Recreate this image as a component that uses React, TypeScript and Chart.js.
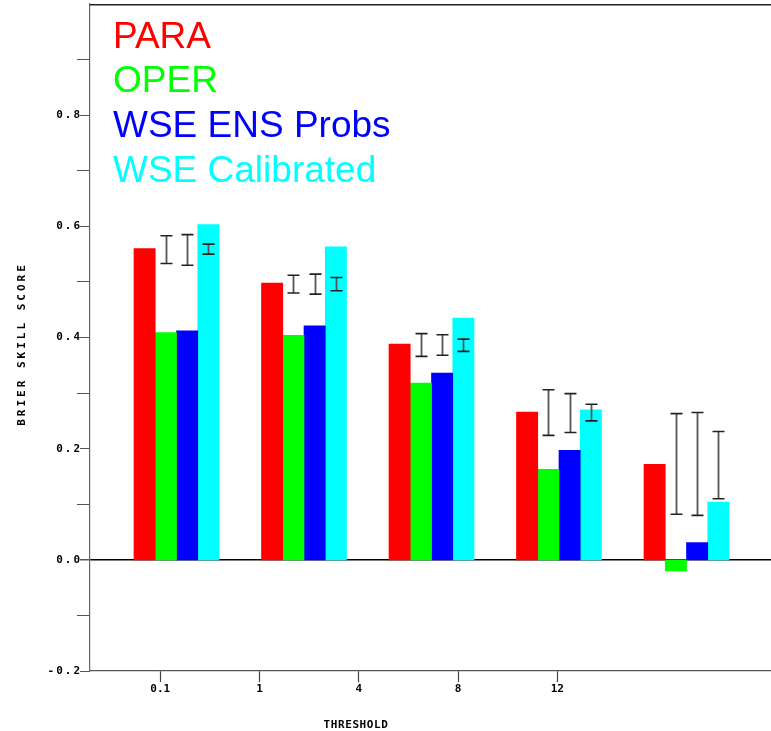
import React, { useEffect, useRef } from "react";
import { Chart, registerables } from "chart.js";

Chart.register(...registerables);

// ---- data ----
const thresholds = ["0.1", "1", "4", "8", "12"];
const groupIndex = [1, 2, 3, 4, 5];
const seriesNames = ["PARA", "OPER", "WSE ENS Probs", "WSE Calibrated"];
const seriesColors = ["#ff0000", "#00ff00", "#0000ff", "#00ffff"];

const para = [0.56, 0.498, 0.388, 0.266, 0.172];
const oper = [0.409, 0.404, 0.318, 0.163, -0.02];
const wseEns = [0.412, 0.421, 0.336, 0.197, 0.031];
const wseCal = [0.603, 0.563, 0.435, 0.27, 0.104];

const operErrLow = [0.533, 0.48, 0.366, 0.224, 0.082];
const operErrHigh = [0.583, 0.512, 0.407, 0.306, 0.263];
const ensErrLow = [0.53, 0.478, 0.368, 0.229, 0.08];
const ensErrHigh = [0.585, 0.514, 0.405, 0.299, 0.265];
const calErrLow = [0.55, 0.484, 0.375, 0.25, 0.11];
const calErrHigh = [0.568, 0.508, 0.397, 0.28, 0.231];

const yTickValues = [-0.2, 0, 0.2, 0.4, 0.6, 0.8];
const yTickLabels = ["-0.2", "0.0", "0.2", "0.4", "0.6", "0.8"];
const yMinorTicks = [-0.1, 0.1, 0.3, 0.5, 0.7, 0.9];
const yTitle = "BRIER SKILL SCORE";
const xTitle = "THRESHOLD";

const seriesValues = [para, oper, wseEns, wseCal];
const errSeries: ({ low: number[]; high: number[] } | null)[] = [
  null,
  { low: operErrLow, high: operErrHigh },
  { low: ensErrLow, high: ensErrHigh },
  { low: calErrLow, high: calErrHigh },
];

const MONO = '"DejaVu Sans Mono", monospace';

const decorPlugin = {
  id: "decor",
  afterDatasetsDraw(chart: any) {
    const ctx = chart.ctx as CanvasRenderingContext2D;
    const y = chart.scales.y;
    const area = chart.chartArea;
    ctx.save();
    // error bars
    errSeries.forEach((e, d) => {
      if (!e) return;
      const meta = chart.getDatasetMeta(d);
      meta.data.forEach((bar: any, i: number) => {
        const x = Math.round(bar.x) + 0.5;
        const yt = y.getPixelForValue(e.high[i]);
        const yb = y.getPixelForValue(e.low[i]);
        ctx.strokeStyle = "#555";
        ctx.lineWidth = 1.8;
        ctx.beginPath();
        ctx.moveTo(x, yt);
        ctx.lineTo(x, yb);
        ctx.stroke();
        ctx.strokeStyle = "#222";
        ctx.lineWidth = 1.6;
        ctx.beginPath();
        ctx.moveTo(x - 6, yt);
        ctx.lineTo(x + 6, yt);
        ctx.moveTo(x - 6, yb);
        ctx.lineTo(x + 6, yb);
        ctx.stroke();
      });
    });
    // top frame line
    ctx.strokeStyle = "#222";
    ctx.lineWidth = 1.5;
    ctx.beginPath();
    ctx.moveTo(area.left, area.top + 0.75);
    ctx.lineTo(area.right, area.top + 0.75);
    ctx.stroke();

    // longer minor tick marks on y axis
    ctx.strokeStyle = "#555";
    ctx.lineWidth = 1;
    ctx.beginPath();
    yMinorTicks.forEach((v) => {
      const py = Math.round(y.getPixelForValue(v) - 0.5) + 0.5;
      ctx.moveTo(y.right - 13, py);
      ctx.lineTo(y.right - 9, py);
    });
    ctx.stroke();

    // legend (text only)
    ctx.font = '37px "Liberation Sans", Arial, sans-serif';
    ctx.textAlign = "left";
    ctx.textBaseline = "alphabetic";
    chart.data.datasets.forEach((ds: any, k: number) => {
      ctx.fillStyle = ds.backgroundColor;
      ctx.fillText(ds.label, 113, 47.5 + k * 44.8);
    });

    // y tick labels
    ctx.fillStyle = "#000";
    ctx.font = `bold 11px ${MONO}`;
    (ctx as any).letterSpacing = "2px";
    ctx.textAlign = "right";
    ctx.textBaseline = "middle";
    yTickValues.forEach((v, i) => {
      ctx.fillText(yTickLabels[i], y.right - 8, y.getPixelForValue(v));
    });

    // y title
    ctx.save();
    (ctx as any).letterSpacing = "3px";
    ctx.translate(22, 344);
    ctx.rotate(-Math.PI / 2);
    ctx.textAlign = "center";
    ctx.fillText(yTitle, 0, 0);
    ctx.restore();

    // x title
    (ctx as any).letterSpacing = "0.6px";
    ctx.textAlign = "center";
    ctx.textBaseline = "middle";
    ctx.fillText(xTitle, 356, 725);
    ctx.restore();
  },
};

export default function App() {
  const ref = useRef<HTMLCanvasElement | null>(null);
  useEffect(() => {
    if (!ref.current) return;
    const chart = new Chart(ref.current, {
      type: "bar",
      data: {
        datasets: seriesNames.map((name, k) => ({
          label: name,
          data: groupIndex.map((g, i) => ({ x: g, y: seriesValues[k][i] })),
          backgroundColor: seriesColors[k],
          borderWidth: 0,
          barThickness: 21.25,
          xAxisID: "x",
        })),
      },
      options: {
        responsive: false,
        animation: false,
        devicePixelRatio: 1,
        layout: { padding: { top: 4, left: 0, right: 0, bottom: 0 } },
        plugins: {
          legend: { display: false },
          tooltip: { enabled: false },
          title: { display: false },
        },
        scales: {
          x: {
            type: "linear",
            display: false,
            offset: false,
            min: 0.3216,
            max: 5.6628,
            afterBuildTicks: (s: any) => {
              s.ticks = groupIndex.map((v) => ({ value: v }));
            },
            grid: { offset: false },
          },
          xt: {
            type: "linear",
            position: "bottom",
            offset: false,
            min: 0.2917,
            max: 7.1532,
            afterBuildTicks: (s: any) => {
              s.ticks = groupIndex.map((v) => ({ value: v }));
            },
            afterFit: (s: any) => {
              s.height = 60;
            },
            border: { display: true, color: "#555", width: 1.2 },
            grid: {
              drawOnChartArea: false,
              drawTicks: true,
              tickLength: 11,
              tickColor: "#444",
              tickWidth: 1.2,
              offset: false,
            },
            ticks: {
              color: "#000",
              padding: 1,
              maxRotation: 0,
              autoSkip: false,
              font: { family: MONO, weight: "bold", size: 11 },
              callback: (_v: any, i: number) => thresholds[i],
            },
          },
          y: {
            type: "linear",
            position: "left",
            min: -0.2,
            max: 1.0,
            afterFit: (s: any) => {
              s.width = 90;
            },
            ticks: { display: false, stepSize: 0.1 },
            border: { display: true, color: "#666", width: 1.2 },
            grid: {
              drawOnChartArea: true,
              drawTicks: true,
              tickLength: 10,
              lineWidth: (c: any) => (c.tick && Math.abs(c.tick.value) < 1e-6 ? 1.5 : 1),
              color: (c: any) =>
                c.tick && Math.abs(c.tick.value) < 1e-6 ? "#000" : "rgba(0,0,0,0)",
              tickColor: (c: any) =>
                c.tick && c.tick.value > 0.95 ? "rgba(0,0,0,0)" : "#555",
            },
          },
        },
      },
      plugins: [decorPlugin],
    } as any);
    return () => chart.destroy();
  }, []);

  return (
    <div style={{ position: "absolute", left: 0, top: 0, width: 771, height: 731 }}>
      <canvas ref={ref} width={771} height={731} style={{ display: "block", width: 771, height: 731 }} />
    </div>
  );
}
